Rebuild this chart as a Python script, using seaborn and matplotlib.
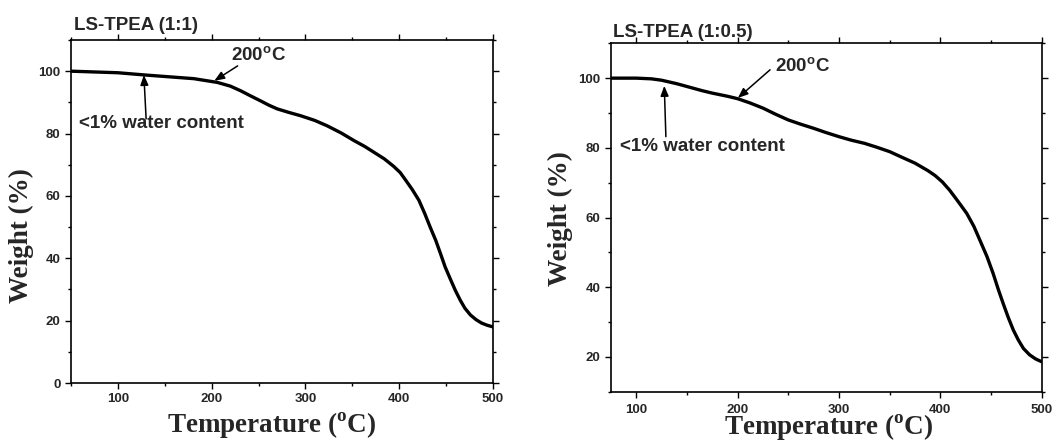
import numpy as np
import pandas as pd
import matplotlib
matplotlib.use("Agg")
import matplotlib.pyplot as plt
import seaborn as sns
from matplotlib.ticker import MultipleLocator

# ---- data ----
temp_a = [50, 100, 128, 150, 181, 206, 220, 231, 242, 252, 261, 270, 282, 295, 310,
          323, 338, 352, 363, 373, 384, 394, 401, 407, 414, 421, 427, 433, 439, 444,
          449, 455, 460, 465, 470, 476, 482, 488, 494, 500]
weight_a = [100.0, 99.5, 98.8, 98.3, 97.6, 96.4, 95.2, 93.7, 92.0, 90.5, 89.1, 87.9,
            86.8, 85.7, 84.2, 82.5, 80.2, 77.7, 75.9, 74.0, 71.9, 69.5, 67.5, 65.0,
            62.0, 58.6, 54.5, 50.0, 45.7, 41.5, 37.2, 33.0, 29.6, 26.6, 24.0, 21.8,
            20.3, 19.2, 18.5, 18.0]

temp_b = [75, 100, 115, 125, 140, 150, 165, 175, 190, 200, 212, 225, 237, 250, 262,
          275, 287, 300, 312, 325, 337, 350, 362, 375, 388, 395, 402, 409, 417, 426,
          433, 439, 446, 452, 457, 462, 467, 472, 477, 482, 488, 494, 500]
weight_b = [100.0, 100.0, 99.8, 99.4, 98.4, 97.6, 96.4, 95.7, 94.8, 94.1, 92.9, 91.4,
            89.7, 88.0, 86.8, 85.6, 84.4, 83.2, 82.2, 81.3, 80.2, 78.9, 77.3, 75.6,
            73.4, 72.0, 70.2, 67.9, 64.8, 61.2, 57.5, 53.5, 48.8, 44.0, 39.5, 35.3,
            31.3, 27.7, 24.8, 22.4, 20.6, 19.4, 18.6]

titles = ["LS-TPEA (1:1)", "LS-TPEA (1:0.5)"]
xlims = [(50, 500), (75, 500)]
ylims = [(0, 110), (10, 110)]
yticks = [[0, 20, 40, 60, 80, 100], [20, 40, 60, 80, 100]]
xticks = [100, 200, 300, 400, 500]

sns.set_theme(style="ticks")
plt.rcParams["font.family"] = ["Liberation Sans", "DejaVu Sans"]
plt.rcParams["mathtext.fontset"] = "custom"
plt.rcParams["mathtext.rm"] = "Liberation Serif:bold"
plt.rcParams["mathtext.sf"] = "Liberation Sans:bold"

fig = plt.figure(figsize=(10.55, 4.41), dpi=100)
ax1 = fig.add_axes([0.0673, 0.1315, 0.4000, 0.7778])
ax2 = fig.add_axes([0.5791, 0.1118, 0.4083, 0.7900])

df_a = pd.DataFrame({"T": temp_a, "W": weight_a})
df_b = pd.DataFrame({"T": temp_b, "W": weight_b})

sns.lineplot(data=df_a, x="T", y="W", ax=ax1, color="black", lw=2.4)
sns.lineplot(data=df_b, x="T", y="W", ax=ax2, color="black", lw=2.4)

label_font = dict(family="Liberation Serif", weight="bold", size=19.5)
ann_font = dict(family="Liberation Sans", weight="bold", size=13.5)

xlab_coords = [(0.476, -0.08), (0.506, -0.057)]
ylab_coords = [(-0.088, 0.431), (-0.089, 0.496)]
title_pos = [(0.007, 1.018), (0.005, 1.008)]

for i, ax in enumerate([ax1, ax2]):
    ax.set_xlim(*xlims[i])
    ax.set_ylim(*ylims[i])
    ax.set_xticks(xticks)
    ax.set_yticks(yticks[i])
    ax.xaxis.set_minor_locator(MultipleLocator(50))
    ax.yaxis.set_minor_locator(MultipleLocator(10))
    ax.tick_params(axis="both", which="major", direction="out", length=4, width=1,
                   labelsize=9.5, color="black")
    ax.tick_params(axis="x", which="major", pad=3 if i == 0 else 5)
    ax.tick_params(axis="both", which="minor", direction="out", length=2.5, width=1,
                   color="black")
    ax.tick_params(which="both", top=True, right=True, labeltop=False, labelright=False)
    for lab in ax.get_xticklabels() + ax.get_yticklabels():
        lab.set_fontweight("bold")
        lab.set_family("Liberation Sans")
    for s in ax.spines.values():
        s.set_visible(True)
        s.set_linewidth(1.2)
        s.set_color("black")
    ax.set_xlabel(r"Temperature ($^{\rm o}$C)", **label_font)
    ax.set_ylabel("Weight (%)", **label_font)
    ax.xaxis.set_label_coords(*xlab_coords[i])
    ax.yaxis.set_label_coords(*ylab_coords[i])
    ax.text(title_pos[i][0], title_pos[i][1], titles[i], transform=ax.transAxes,
            ha="left", va="bottom", fontsize=13.5, fontweight="bold")

arrow = dict(arrowstyle="-|>,head_length=0.5,head_width=0.2", color="black", lw=1.1,
             shrinkA=0, shrinkB=0)

# left panel annotations
ax1.annotate("", xy=(202.8, 96.9), xytext=(227.7, 101.7), arrowprops=arrow)
ax1.text(221, 104.9, r"200$^{\mathsf{o}}$C", ha="left", va="center", **ann_font)
ax1.annotate("", xy=(127.7, 98.8), xytext=(130.1, 84.7), arrowprops=arrow)
ax1.text(59, 83.1, "<1% water content", ha="left", va="center", **ann_font)

# right panel annotations
ax2.annotate("", xy=(200.2, 94.3), xytext=(232, 102.4), arrowprops=arrow)
ax2.text(237, 103.4, r"200$^{\mathsf{o}}$C", ha="left", va="center", **ann_font)
ax2.annotate("", xy=(127.6, 97.8), xytext=(129.2, 83.2), arrowprops=arrow)
ax2.text(84, 80.4, "<1% water content", ha="left", va="center", **ann_font)

fig.savefig("out.png", dpi=100)
